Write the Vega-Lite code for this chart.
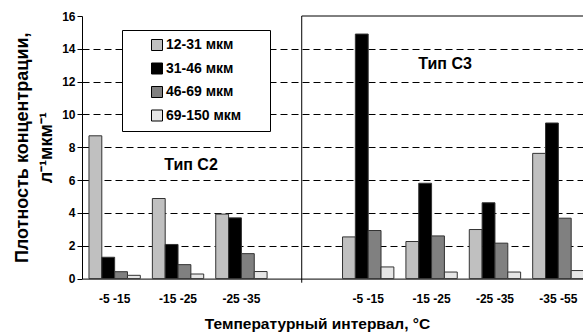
{
  "$schema": "https://vega.github.io/schema/vega-lite/v6.json",
  "autosize": {"type": "none"},
  "width": 501,
  "height": 262.6,
  "padding": {"left": 82, "top": 16, "right": 0, "bottom": 57.4},
  "background": "white",
  "config": {
    "view": {"stroke": null},
    "font": "Liberation Sans",
    "axis": {"labelFont": "Liberation Sans", "titleFont": "Liberation Sans", "labelFontWeight": "bold", "titleFontWeight": "bold", "labelColor": "#000", "titleColor": "#000", "domainColor": "#000", "tickColor": "#000"}
  },
  "data": {
    "values": [
      {"cat": "C2|-5 -15", "size": "12-31 мкм", "v": 8.7},
      {"cat": "C2|-5 -15", "size": "31-46 мкм", "v": 1.3},
      {"cat": "C2|-5 -15", "size": "46-69 мкм", "v": 0.42},
      {"cat": "C2|-5 -15", "size": "69-150 мкм", "v": 0.2},
      {"cat": "C2|-15 -25", "size": "12-31 мкм", "v": 4.88},
      {"cat": "C2|-15 -25", "size": "31-46 мкм", "v": 2.08},
      {"cat": "C2|-15 -25", "size": "46-69 мкм", "v": 0.85},
      {"cat": "C2|-15 -25", "size": "69-150 мкм", "v": 0.28},
      {"cat": "C2|-25 -35", "size": "12-31 мкм", "v": 3.93},
      {"cat": "C2|-25 -35", "size": "31-46 мкм", "v": 3.7},
      {"cat": "C2|-25 -35", "size": "46-69 мкм", "v": 1.52},
      {"cat": "C2|-25 -35", "size": "69-150 мкм", "v": 0.43},
      {"cat": "C3|-5 -15", "size": "12-31 мкм", "v": 2.54},
      {"cat": "C3|-5 -15", "size": "31-46 мкм", "v": 14.9},
      {"cat": "C3|-5 -15", "size": "46-69 мкм", "v": 2.93},
      {"cat": "C3|-5 -15", "size": "69-150 мкм", "v": 0.71},
      {"cat": "C3|-15 -25", "size": "12-31 мкм", "v": 2.26},
      {"cat": "C3|-15 -25", "size": "31-46 мкм", "v": 5.81},
      {"cat": "C3|-15 -25", "size": "46-69 мкм", "v": 2.6},
      {"cat": "C3|-15 -25", "size": "69-150 мкм", "v": 0.4},
      {"cat": "C3|-25 -35", "size": "12-31 мкм", "v": 2.99},
      {"cat": "C3|-25 -35", "size": "31-46 мкм", "v": 4.62},
      {"cat": "C3|-25 -35", "size": "46-69 мкм", "v": 2.16},
      {"cat": "C3|-25 -35", "size": "69-150 мкм", "v": 0.4},
      {"cat": "C3|-35 -55", "size": "12-31 мкм", "v": 7.63},
      {"cat": "C3|-35 -55", "size": "31-46 мкм", "v": 9.48},
      {"cat": "C3|-35 -55", "size": "46-69 мкм", "v": 3.68},
      {"cat": "C3|-35 -55", "size": "69-150 мкм", "v": 0.49}
    ]
  },
  "encoding": {
    "x": {
      "field": "cat", "type": "nominal",
      "scale": {
        "domain": ["C2|-5 -15", "C2|-15 -25", "C2|-25 -35", "gap|", "C3|-5 -15", "C3|-15 -25", "C3|-25 -35", "C3|-35 -55"],
        "range": [0, 509], "paddingInner": 0.19, "paddingOuter": 0.11
      },
      "axis": {
        "labelExpr": "split(datum.value, '|')[1]",
        "labelAngle": 0, "labelFontSize": 12, "labelPadding": 15, "ticks": false, "tickSize": 0,
        "title": "Температурный интервал, °C", "titleFontSize": 15.5, "titlePadding": 12, "titleX": 235,
        "domainWidth": 1
      }
    }
  },
  "layer": [
    {
      "mark": {"type": "bar", "stroke": "#333", "strokeWidth": 1},
      "encoding": {
        "xOffset": {"field": "size", "type": "nominal", "scale": {"domain": ["12-31 мкм", "31-46 мкм", "46-69 мкм", "69-150 мкм"]}},
        "y": {
          "field": "v", "type": "quantitative",
          "scale": {"domain": [0, 16], "nice": false},
          "axis": {
            "values": [0, 2, 4, 6, 8, 10, 12, 14, 16],
            "labelOverlap": false,
            "grid": true, "gridColor": "#000", "gridDash": [7, 4], "gridWidth": 1,
            "gridOpacity": {"condition": {"test": "datum.value >= 16 || datum.value <= 0", "value": 0}, "value": 1},
            "tickSize": 5, "labelFontSize": 12, "labelPadding": 2,
            "title": ["Плотность концентрации,", "л⁻¹мкм⁻¹"],
            "titleFontSize": 18, "titleLineHeight": 24, "titlePadding": 6
          }
        },
        "color": {
          "field": "size", "type": "nominal",
          "scale": {"domain": ["12-31 мкм", "31-46 мкм", "46-69 мкм", "69-150 мкм"], "range": ["#c0c0c0", "#000000", "#808080", "#e6e6e6"]},
          "legend": {
            "title": null, "orient": "none", "legendX": 40, "legendY": 14,
            "fillColor": "#fff", "strokeColor": "#000", "padding": 8,
            "symbolType": "square", "symbolSize": 121, "symbolStrokeColor": "#000", "symbolStrokeWidth": 1,
            "symbolOffset": 20, "labelOffset": 2,
            "labelFont": "Liberation Sans", "labelFontWeight": "bold", "labelFontSize": 14, "labelColor": "#000",
            "rowPadding": 7.5,
            "labelExpr": "datum.label + '\u2800\u2800'"
          }
        }
      }
    },
    {
      "data": {"values": [{}]},
      "mark": {"type": "rule", "color": "#000", "strokeWidth": 1},
      "encoding": {
        "x": {"datum": "gap|", "bandPosition": 0.44},
        "y": {"datum": 16, "scale": {"domain": [0, 16], "nice": false},
          "axis": {
            "values": [0, 2, 4, 6, 8, 10, 12, 14, 16],
            "labelOverlap": false,
            "grid": true, "gridColor": "#000", "gridDash": [7, 4], "gridWidth": 1,
            "gridOpacity": {"condition": {"test": "datum.value >= 16 || datum.value <= 0", "value": 0}, "value": 1},
            "tickSize": 5, "labelFontSize": 12, "labelPadding": 2,
            "title": ["Плотность концентрации,", "л⁻¹мкм⁻¹"],
            "titleFontSize": 18, "titleLineHeight": 24, "titlePadding": 6
          }},
        "y2": {"datum": -0.25}
      }
    },
    {
      "data": {"values": [{}]},
      "mark": {"type": "rule", "color": "#000", "strokeWidth": 1},
      "encoding": {
        "x": {"datum": "gap|", "bandPosition": 0.44},
        "x2": {"value": "width"},
        "y": {"datum": 16, "scale": {"domain": [0, 16], "nice": false},
          "axis": {
            "values": [0, 2, 4, 6, 8, 10, 12, 14, 16],
            "labelOverlap": false,
            "grid": true, "gridColor": "#000", "gridDash": [7, 4], "gridWidth": 1,
            "gridOpacity": {"condition": {"test": "datum.value >= 16 || datum.value <= 0", "value": 0}, "value": 1},
            "tickSize": 5, "labelFontSize": 12, "labelPadding": 2,
            "title": ["Плотность концентрации,", "л⁻¹мкм⁻¹"],
            "titleFontSize": 18, "titleLineHeight": 24, "titlePadding": 6
          }}
      }
    },
    {
      "data": {"values": [{"t": "Тип С2"}]},
      "mark": {"type": "text", "font": "Liberation Sans", "fontWeight": "bold", "fontSize": 16, "dx": 13, "baseline": "middle", "color": "#000"},
      "encoding": {
        "x": {"datum": "C2|-15 -25"},
        "y": {"datum": 6.93, "scale": {"domain": [0, 16], "nice": false},
          "axis": {
            "values": [0, 2, 4, 6, 8, 10, 12, 14, 16],
            "labelOverlap": false,
            "grid": true, "gridColor": "#000", "gridDash": [7, 4], "gridWidth": 1,
            "gridOpacity": {"condition": {"test": "datum.value >= 16 || datum.value <= 0", "value": 0}, "value": 1},
            "tickSize": 5, "labelFontSize": 12, "labelPadding": 2,
            "title": ["Плотность концентрации,", "л⁻¹мкм⁻¹"],
            "titleFontSize": 18, "titleLineHeight": 24, "titlePadding": 6
          }},
        "text": {"field": "t"}
      }
    },
    {
      "data": {"values": [{"t": "Тип С3"}]},
      "mark": {"type": "text", "font": "Liberation Sans", "fontWeight": "bold", "fontSize": 16, "dx": 13.5, "baseline": "middle", "color": "#000"},
      "encoding": {
        "x": {"datum": "C3|-15 -25"},
        "y": {"datum": 13.1, "scale": {"domain": [0, 16], "nice": false},
          "axis": {
            "values": [0, 2, 4, 6, 8, 10, 12, 14, 16],
            "labelOverlap": false,
            "grid": true, "gridColor": "#000", "gridDash": [7, 4], "gridWidth": 1,
            "gridOpacity": {"condition": {"test": "datum.value >= 16 || datum.value <= 0", "value": 0}, "value": 1},
            "tickSize": 5, "labelFontSize": 12, "labelPadding": 2,
            "title": ["Плотность концентрации,", "л⁻¹мкм⁻¹"],
            "titleFontSize": 18, "titleLineHeight": 24, "titlePadding": 6
          }},
        "text": {"field": "t"}
      }
    }
  ]
}
